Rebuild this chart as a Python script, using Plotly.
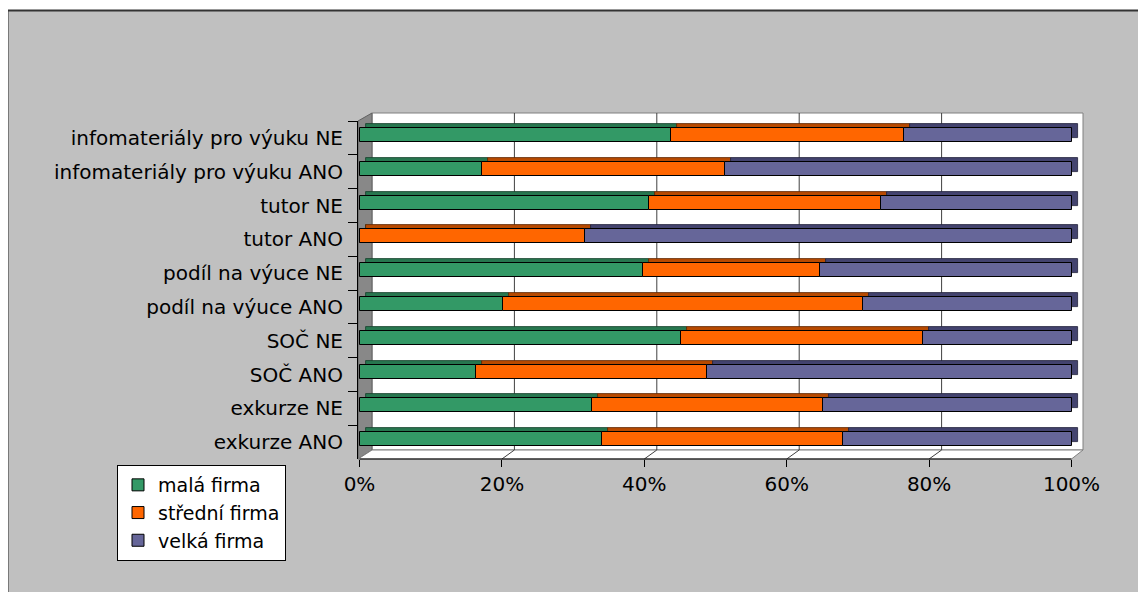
import numpy as np
import plotly.graph_objects as go

# ---------------- data ----------------
categories = [
    "infomateriály pro výuku NE",
    "infomateriály pro výuku ANO",
    "tutor NE",
    "tutor ANO",
    "podíl na výuce NE",
    "podíl na výuce ANO",
    "SOČ NE",
    "SOČ ANO",
    "exkurze NE",
    "exkurze ANO",
]
series_names = ["malá firma", "střední firma", "velká firma"]
mala = [43.7, 17.2, 40.7, 0.0, 39.8, 20.2, 45.2, 16.3, 32.7, 34.0]
stredni = [32.8, 34.2, 32.5, 31.7, 24.9, 50.5, 34.0, 32.5, 32.4, 33.9]
velka = [23.5, 48.6, 26.8, 68.3, 35.3, 29.3, 20.8, 51.2, 34.9, 32.1]
tick_vals = [0, 20, 40, 60, 80, 100]
tick_text = ["0%", "20%", "40%", "60%", "80%", "100%"]

# ---------------- styles ----------------
front_colors = ["#339966", "#FF6600", "#666699"]
top_colors = ["#27774F", "#B84A00", "#43436F"]
edge_colors = ["#143D28", "#5A2500", "#20203A"]
FONT = "DejaVu Sans"
PAGE_OFF = 8                               # default body margin of the page
W, H = 1146 - PAGE_OFF, 592 - PAGE_OFF     # figure size


def fx(p):  # page px -> figure px (x)
    return p - PAGE_OFF


def fy(p):
    return p - PAGE_OFF


L, R, T, B = fx(358), fx(1085), fy(121), fy(459)   # plot area in figure px
X0_PX, PX_PER = fx(359.5), 7.12
XR = [(L - X0_PX) / PX_PER, (R - X0_PX) / PX_PER]
WALL_DX = 12.5 / PX_PER
BAR_DX = 6 / PX_PER
CAT_PX = (B - T) / len(categories)
BAR_W = 14 / CAT_PX
OFF_FRONT = -(BAR_W / 2) - 3 / CAT_PX
OFF_TOP = OFF_FRONT - 4 / CAT_PX


def py(p):  # page px -> paper y
    return (B - fy(p)) / (B - T)


def pxx(p):  # page px -> paper x
    return (fx(p) - L) / (R - L)


vals = np.array([mala, stredni, velka], dtype=float)
bases = np.vstack([np.zeros(len(categories)), np.cumsum(vals, axis=0)[:-1]])

fig = go.Figure()

# depth (top / end faces)
for i in range(3):
    fig.add_trace(go.Bar(
        y=categories, x=vals[i], base=bases[i] + BAR_DX, orientation="h",
        width=BAR_W, offset=OFF_TOP,
        marker=dict(color=top_colors[i], line=dict(color=edge_colors[i], width=0.8)),
        showlegend=False, hoverinfo="skip",
    ))
# front faces
for i in range(3):
    fig.add_trace(go.Bar(
        y=categories, x=vals[i], base=bases[i], orientation="h",
        width=BAR_W, offset=OFF_FRONT, name=series_names[i],
        marker=dict(color=front_colors[i], line=dict(color="#000000", width=1)),
    ))

shapes = []
# chart area background with border
shapes.append(dict(type="rect", xref="paper", yref="paper", layer="below",
                   x0=pxx(7.5), x1=pxx(1146 + 20), y0=py(592 + 20), y1=py(10.5),
                   fillcolor="#C0C0C0", line=dict(color="#333333", width=2)))
# back wall
shapes.append(dict(type="rect", xref="paper", yref="paper", layer="below",
                   x0=pxx(372), x1=pxx(1083), y0=py(450), y1=py(113),
                   fillcolor="#FFFFFF", line=dict(color="#808080", width=1)))
# side wall
shapes.append(dict(type="path", xref="paper", yref="paper", layer="below",
                   path=f"M{pxx(358)},{py(121)} L{pxx(372)},{py(113)} L{pxx(372)},{py(450)} L{pxx(358)},{py(459)} Z",
                   fillcolor="#888888", line=dict(color="#606060", width=1)))
# floor
shapes.append(dict(type="path", xref="paper", yref="paper", layer="below",
                   path=f"M{pxx(358)},{py(459)} L{pxx(372)},{py(450)} L{pxx(1083)},{py(450)} L{pxx(1071.5)},{py(459)} Z",
                   fillcolor="#FFFFFF", line=dict(color="#808080", width=1)))
# gridlines (floor diagonal + wall vertical)
for t in tick_vals[1:-1]:
    shapes.append(dict(type="path", xref="x", yref="paper", layer="below",
                       path=f"M{t},{py(459)} L{t + WALL_DX},{py(450)} L{t + WALL_DX},{py(113)}",
                       line=dict(color="#404040", width=1)))
# front axis line
shapes.append(dict(type="line", xref="x", yref="paper", layer="above",
                   x0=tick_vals[0], x1=tick_vals[-1], y0=0, y1=0,
                   line=dict(color="#000000", width=1)))

fig.update_layout(
    width=W, height=H,
    margin=dict(l=L, r=W - R, t=T, b=H - B, pad=0),
    paper_bgcolor="#FFFFFF",
    plot_bgcolor="rgba(0,0,0,0)",
    barmode="overlay",
    bargap=0,
    font=dict(family=FONT, size=20, color="#000000"),
    shapes=shapes,
    showlegend=True,
    legend=dict(
        x=pxx(117), y=py(465), xanchor="left", yanchor="top",
        bgcolor="#FFFFFF", bordercolor="#000000", borderwidth=1,
        font=dict(family=FONT, size=19, color="#000000"),
        traceorder="normal", itemwidth=30, tracegroupgap=0,
    ),
    xaxis=dict(
        range=XR, tickvals=tick_vals, ticktext=tick_text,
        ticks="outside", ticklen=7, tickcolor="#000000", tickwidth=1,
        showline=False, showgrid=False, zeroline=False, automargin=False,
        tickfont=dict(family=FONT, size=20, color="#000000"),
        fixedrange=True,
    ),
    yaxis=dict(
        type="category", categoryorder="array", categoryarray=categories,
        range=[len(categories) - 0.5, -0.5],
        tickson="boundaries", ticks="outside", ticklen=9, tickcolor="#000000",
        showline=True, linecolor="#000000", linewidth=1,
        showgrid=False, zeroline=False, automargin=False,
        ticklabelstandoff=10,
        tickfont=dict(family=FONT, size=20, color="#000000"),
        fixedrange=True,
    ),
)

fig.write_html("out.html")
